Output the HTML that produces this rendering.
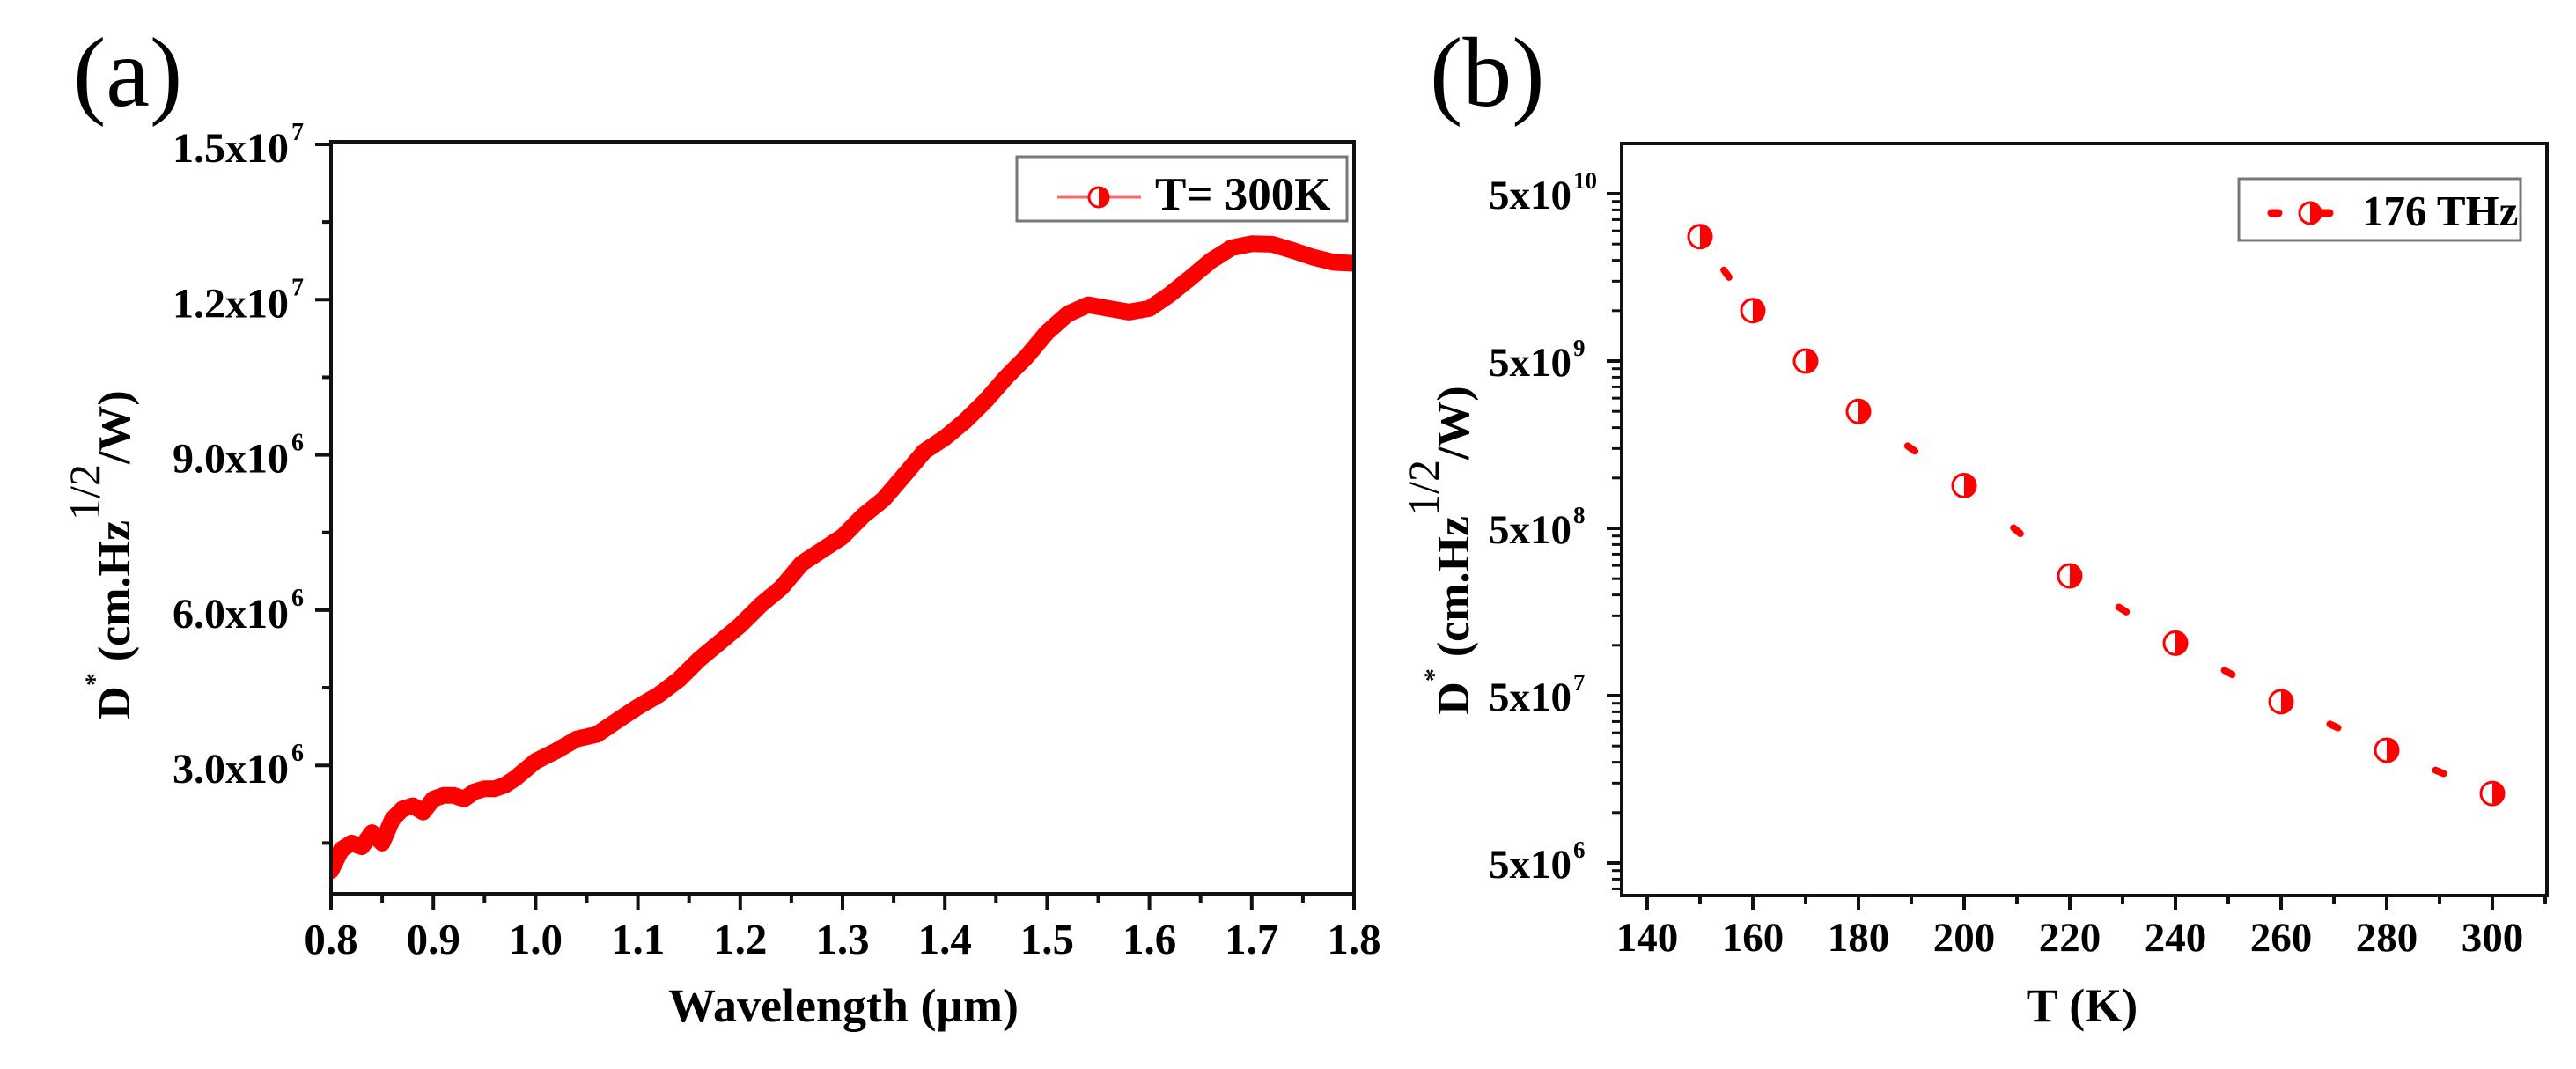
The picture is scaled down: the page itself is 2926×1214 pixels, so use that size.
<!DOCTYPE html>
<html><head><meta charset="utf-8"><style>
html,body{margin:0;padding:0;background:#fff;}
svg{display:block;}
text{font-family:"Liberation Serif","DejaVu Serif",serif;}
</style></head><body>
<svg id="fig" width="2926" height="1214" viewBox="0 0 2926 1214" xmlns="http://www.w3.org/2000/svg">
<g id="pa"></g>
<g id="pb"></g>
</svg>
<script>
// ---------- Panel (a) data ----------
const waveA = [0.80,0.81,0.82,0.83,0.84,0.85,0.86,0.87,0.88,0.89,0.90,0.91,0.92,0.93,0.94,0.95,0.96,0.97,0.98,1.00,1.02,1.04,1.06,1.08,1.10,1.12,1.14,1.16,1.18,1.20,1.22,1.24,1.26,1.28,1.30,1.32,1.34,1.36,1.38,1.40,1.42,1.44,1.46,1.48,1.50,1.52,1.54,1.56,1.58,1.60,1.62,1.64,1.66,1.68,1.70,1.72,1.74,1.76,1.78,1.80];
const detA = [0.97,1.37,1.5,1.43,1.7,1.5,1.96,2.16,2.22,2.1,2.35,2.42,2.42,2.35,2.49,2.55,2.55,2.62,2.75,3.08,3.28,3.51,3.6,3.87,4.13,4.36,4.66,5.05,5.38,5.71,6.1,6.43,6.9,7.16,7.42,7.82,8.14,8.6,9.07,9.33,9.66,10.05,10.5,10.9,11.37,11.72,11.9,11.83,11.76,11.83,12.1,12.42,12.75,13.0,13.08,13.07,12.95,12.82,12.72,12.7]; // x1e6
const xTicksA = [0.8,0.9,1.0,1.1,1.2,1.3,1.4,1.5,1.6,1.7,1.8];
const xTickLabelsA = ["0.8","0.9","1.0","1.1","1.2","1.3","1.4","1.5","1.6","1.7","1.8"];
const yTicksA = [3,6,9,12,15];
const yTickMantA = ["3.0","6.0","9.0","1.2","1.5"];
const yTickExpA = ["6","6","6","7","7"];
// ---------- Panel (b) data ----------
const tempB = [150,160,170,180,200,220,240,260,280,300];
const detB = [2.77e10,1.0e10,5.0e9,2.5e9,9.0e8,2.6e8,1.03e8,4.6e7,2.36e7,1.3e7];
const xTicksB = [140,160,180,200,220,240,260,280,300];
const yTicksB = [5e10,5e9,5e8,5e7,5e6];
const yTickExpB = ["10","9","8","7","6"];

const NS="http://www.w3.org/2000/svg";
function mk(parent,tag,attrs,txt){const e=document.createElementNS(NS,tag);for(const k in attrs)e.setAttribute(k,attrs[k]);if(txt!==undefined)e.textContent=txt;parent.appendChild(e);return e;}

// ===== Panel a =====
const pa=document.getElementById('pa');
const A={x0:376,x1:1538,y0:1015,y1:161,xmin:0.8,xmax:1.8,ymin:0.52,ymax:15.05};
const sxA=v=>A.x0+(v-A.xmin)/(A.xmax-A.xmin)*(A.x1-A.x0);
const syA=v=>A.y0-(v-A.ymin)/(A.ymax-A.ymin)*(A.y0-A.y1);
let t=mk(pa,'text',{x:83,y:120,'font-size':112},'(a)');


// curve
let d='';waveA.forEach((w,i)=>{d+=(i?'L':'M')+sxA(w).toFixed(1)+','+syA(detA[i]).toFixed(1);});
const clipA=mk(pa,'clipPath',{id:'clipA'});mk(clipA,'rect',{x:A.x0,y:A.y1,width:A.x1-A.x0,height:A.y0-A.y1});
let c=mk(pa,'path',{d:d,fill:'none',stroke:'#ff0000','stroke-width':19,'stroke-linejoin':'round','stroke-linecap':'round','clip-path':'url(#clipA)'});


// frame
let f=mk(pa,'rect',{x:A.x0,y:A.y1,width:A.x1-A.x0,height:A.y0-A.y1,fill:'none',stroke:'#111','stroke-width':4});


// x ticks
xTicksA.forEach((v,i)=>{const x=sxA(v);mk(pa,'line',{x1:x,y1:A.y0,x2:x,y2:A.y0+18,stroke:'#111','stroke-width':4});
 if(i<xTicksA.length-1){const xm=sxA(v+0.05);mk(pa,'line',{x1:xm,y1:A.y0,x2:xm,y2:A.y0+10,stroke:'#111','stroke-width':4});}
 const l=mk(pa,'text',{x:x,y:1083,'font-size':49,'font-weight':'bold','text-anchor':'middle'},xTickLabelsA[i]);
 
 
});
// y ticks
yTicksA.forEach((v,i)=>{const y=syA(v);mk(pa,'line',{x1:A.x0,y1:y,x2:A.x0-18,y2:y,stroke:'#111','stroke-width':4});
 const ym=syA(v-1.5);mk(pa,'line',{x1:A.x0,y1:ym,x2:A.x0-10,y2:ym,stroke:'#111','stroke-width':4});
 const l=mk(pa,'text',{x:328,y:y+20,'font-size':48,'font-weight':'bold','text-anchor':'end'},yTickMantA[i]+'x10');
 
 
 const s=mk(pa,'text',{x:331,y:y-5,'font-size':28,'font-weight':'bold'},yTickExpA[i]);
 
 
});
// titles
t=mk(pa,'text',{x:958,y:1160,'font-size':54,'font-weight':'bold','text-anchor':'middle'},'Wavelength (μm)');


function yTitle(parent,cx,cy,name){
 const g=mk(parent,'text',{transform:`translate(${cx},${cy}) rotate(-90)`,'font-size':52,'font-weight':'bold','text-anchor':'middle'});
 
 
 mk(g,'tspan',{},'D');mk(g,'tspan',{dy:-30,'font-size':30},'*');mk(g,'tspan',{dy:30},' (cm.Hz');
 mk(g,'tspan',{dy:-34,'font-size':50,'font-weight':'normal'},'1/2');mk(g,'tspan',{dy:34},'/W)');
}
yTitle(pa,147,630,'y-axis-title-a');
// legend a
function halfMarker(parent,cx,cy,r){
 const g=mk(parent,'g',{});
 mk(g,'circle',{cx:cx,cy:cy,r:r,fill:'#fff',stroke:'#ff0000','stroke-width':3});
 mk(g,'path',{d:`M${cx},${cy-r} A${r},${r} 0 0 1 ${cx},${cy+r} Z`,fill:'#ff0000'});
 return g;
}
const legA=mk(pa,'g',{});


mk(legA,'rect',{x:1155,y:178,width:375,height:73,fill:'#fff',stroke:'#777','stroke-width':3});
mk(legA,'line',{x1:1201,y1:224,x2:1296,y2:224,stroke:'#ff6666','stroke-width':3});
halfMarker(legA,1248,224,11);
mk(legA,'text',{x:1312,y:238,'font-size':53,'font-weight':'bold'},'T= 300K');

// ===== Panel b =====
const pb=document.getElementById('pb');
const B={x0:1842,x1:2893,y0:1017,y1:163,tmin:135.17,tmax:310.33,ref:5e10,yref:220,dec:190};
const sxB=v=>B.x0+(v-B.tmin)/(B.tmax-B.tmin)*(B.x1-B.x0);
const syB=v=>B.yref-Math.log10(v/B.ref)*B.dec;
t=mk(pb,'text',{x:1624,y:120,'font-size':112},'(b)');


f=mk(pb,'rect',{x:B.x0,y:B.y1,width:B.x1-B.x0,height:B.y0-B.y1,fill:'none',stroke:'#111','stroke-width':4});


// x ticks
xTicksB.forEach((v,i)=>{const x=sxB(v);mk(pb,'line',{x1:x,y1:B.y0,x2:x,y2:B.y0+17,stroke:'#111','stroke-width':4});
 const xm=sxB(v+10);mk(pb,'line',{x1:xm,y1:B.y0,x2:xm,y2:B.y0+10,stroke:'#111','stroke-width':4});
 const l=mk(pb,'text',{x:x,y:1080,'font-size':47,'font-weight':'bold','text-anchor':'middle'},String(v));
 
 
});
// y ticks (log)
yTicksB.forEach((v,i)=>{const y=syB(v);mk(pb,'line',{x1:B.x0,y1:y,x2:B.x0-17,y2:y,stroke:'#111','stroke-width':4});
 const l=mk(pb,'text',{x:1785,y:y+17,'font-size':47,'font-weight':'bold','text-anchor':'end'},'5x10');
 
 
 const s=mk(pb,'text',{x:1787,y:y-6,'font-size':27,'font-weight':'bold'},yTickExpB[i]);
 
 
});
for(let e=5;e<=10;e++){for(let k=2;k<=9;k++){const v=k*5*Math.pow(10,e-1);const y=syB(v);if(y<B.y1+2||y>B.y0-2)continue;
 mk(pb,'line',{x1:B.x0,y1:y,x2:B.x0-11,y2:y,stroke:'#111','stroke-width':3});}}
t=mk(pb,'text',{x:2365,y:1160,'font-size':54,'font-weight':'bold','text-anchor':'middle'},'T (K)');


yTitle(pb,1668,625,'y-axis-title-b');
// dashes between points
for(let i=0;i<tempB.length-1;i++){const xa=sxB(tempB[i]),ya=syB(detB[i]),xb=sxB(tempB[i+1]),yb=syB(detB[i+1]);
 const L=Math.hypot(xb-xa,yb-ya);if(L<90)continue;const ux=(xb-xa)/L,uy=(yb-ya)/L;const mx=(xa+xb)/2,my=(ya+yb)/2;
 const dl=mk(pb,'line',{x1:mx-ux*5,y1:my-uy*5,x2:mx+ux*5,y2:my+uy*5,stroke:'#ff0000','stroke-width':8,'stroke-linecap':'round'});
 
 
}
tempB.forEach((v,i)=>{const m=halfMarker(pb,sxB(v),syB(detB[i]),13);
 
 
});
const legB=mk(pb,'g',{});


mk(legB,'rect',{x:2543,y:203,width:320,height:70,fill:'#fff',stroke:'#777','stroke-width':3});
mk(legB,'line',{x1:2580,y1:242,x2:2588,y2:242,stroke:'#ff0000','stroke-width':9,'stroke-linecap':'round'});
mk(legB,'line',{x1:2634,y1:242,x2:2646,y2:242,stroke:'#ff0000','stroke-width':9,'stroke-linecap':'round'});
halfMarker(legB,2624,242,12);
mk(legB,'text',{x:2683,y:256,'font-size':49,'font-weight':'bold'},'176 THz');
</script>
</body></html>
